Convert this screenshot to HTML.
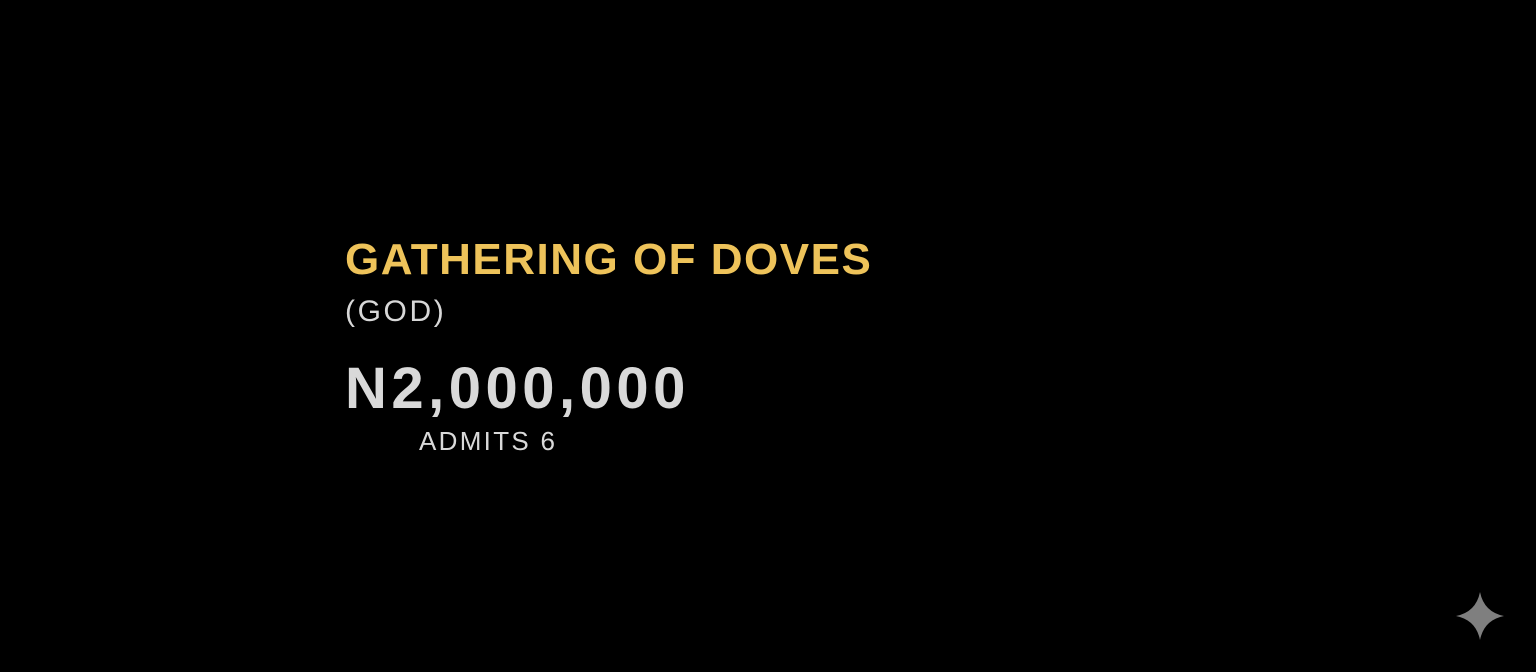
<!DOCTYPE html>
<html><head><meta charset="utf-8">
<style>
html,body{margin:0;padding:0;background:#000;width:1536px;height:672px;overflow:hidden}
.t{position:absolute;left:345px;font-family:"Liberation Sans",sans-serif;white-space:nowrap;line-height:1}
</style></head>
<body>
<div style="position:relative;width:1536px;height:672px;background:#000">
<div class="t" style="top:238px;font-size:44px;font-weight:bold;color:#eec35a;letter-spacing:1.5px">GATHERING OF DOVES</div>
<div class="t" style="top:297px;font-size:30px;color:#d8d8d8;letter-spacing:2.6px">(GOD)</div>
<div class="t" style="top:360px;font-size:58px;font-weight:bold;color:#d9d9d9;letter-spacing:4.5px">N2,000,000</div>
<div class="t" style="left:419px;top:428px;font-size:26px;color:#d9d9d9;letter-spacing:2.3px">ADMITS 6</div>
<svg style="position:absolute;left:1456px;top:592px" width="48" height="48" viewBox="0 0 48 48">
<path d="M24 0 Q28 20 48 24 Q28 28 24 48 Q20 28 0 24 Q20 20 24 0Z" fill="#7f7f7f"/>
</svg>
</div>
</body></html>
